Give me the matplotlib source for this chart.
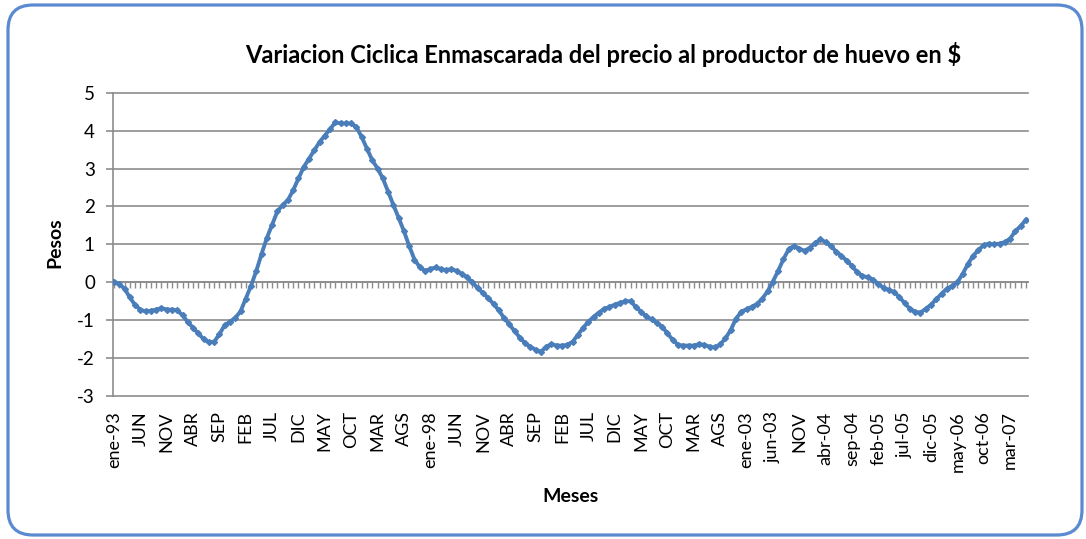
import numpy as np
import matplotlib
matplotlib.use("Agg")
import matplotlib.pyplot as plt
from matplotlib.patches import FancyBboxPatch

plt.rcParams['font.family'] = ['Lato', 'DejaVu Sans']
plt.rcParams['axes.unicode_minus'] = False

# etiquetas del eje x (una cada 5 meses, desde ene-93)
etiquetas = ["ene-93", "JUN", "NOV", "ABR", "SEP", "FEB", "JUL", "DIC", "MAY", "OCT",
             "MAR", "AGS", "ene-98", "JUN", "NOV", "ABR", "SEP", "FEB", "JUL", "DIC",
             "MAY", "OCT", "MAR", "AGS", "ene-03", "jun-03", "NOV", "abr-04", "sep-04",
             "feb-05", "jul-05", "dic-05", "may-06", "oct-06", "mar-07"]

# variacion ciclica mensual (ene-93 .. jun-07)
variacion = [
    0.02, -0.05, -0.17, -0.40, -0.60, -0.72, -0.77, -0.75, -0.72, -0.68,
    -0.72, -0.72, -0.74, -0.87, -1.05, -1.20, -1.35, -1.50, -1.58, -1.57,
    -1.37, -1.13, -1.04, -0.94, -0.77, -0.43, -0.09, 0.30, 0.75, 1.17,
    1.52, 1.87, 2.04, 2.17, 2.43, 2.74, 3.04, 3.26, 3.48, 3.70,
    3.87, 4.04, 4.22, 4.19, 4.19, 4.19, 4.09, 3.83, 3.52, 3.22,
    3.00, 2.74, 2.39, 2.04, 1.70, 1.35, 0.96, 0.60, 0.40, 0.30,
    0.35, 0.39, 0.35, 0.32, 0.35, 0.30, 0.22, 0.13, 0.00, -0.16,
    -0.28, -0.42, -0.57, -0.74, -0.94, -1.11, -1.29, -1.46, -1.61, -1.70,
    -1.78, -1.83, -1.70, -1.63, -1.67, -1.67, -1.65, -1.57, -1.39, -1.20,
    -1.04, -0.91, -0.80, -0.70, -0.65, -0.59, -0.54, -0.50, -0.50, -0.65,
    -0.78, -0.90, -0.98, -1.07, -1.17, -1.35, -1.52, -1.65, -1.67, -1.67,
    -1.67, -1.63, -1.65, -1.70, -1.72, -1.64, -1.48, -1.26, -0.96, -0.78,
    -0.71, -0.65, -0.57, -0.43, -0.24, 0.02, 0.30, 0.61, 0.87, 0.96,
    0.89, 0.83, 0.91, 1.03, 1.13, 1.06, 0.96, 0.81, 0.70, 0.57,
    0.43, 0.26, 0.17, 0.13, 0.07, -0.04, -0.15, -0.20, -0.26, -0.39,
    -0.55, -0.70, -0.78, -0.80, -0.70, -0.59, -0.45, -0.30, -0.17, -0.10,
    0.00, 0.22, 0.48, 0.70, 0.85, 0.98, 1.02, 1.00, 1.02, 1.06,
    1.15, 1.35, 1.48, 1.65,
]

azul = "#4a7ebb"
gris = "#8c8c8c"

x = np.arange(len(variacion))

fig = plt.figure(figsize=(10.86, 5.39), dpi=100)
ax = fig.add_axes([0.104, 0.2653, 0.8426, 0.5627])

ax.plot(x, variacion, color=azul, lw=2.8, marker="D", ms=3.0, zorder=3)

ax.set_xlim(-0.2, 173.4)
ax.set_ylim(-3, 5)
ax.set_yticks(range(-3, 6))
ax.yaxis.grid(True, color=gris, lw=1.2)
for gl in ax.get_ygridlines():
    gl.set_clip_on(False)
ax.set_axisbelow(True)

for s in ["top", "right"]:
    ax.spines[s].set_visible(False)
ax.spines["left"].set_color(gris)
ax.spines["left"].set_linewidth(1.2)
ax.spines["bottom"].set_position(("data", 0))
ax.spines["bottom"].set_color(gris)
ax.spines["bottom"].set_linewidth(1.2)

ax.set_xticks(x)
ax.tick_params(axis="x", length=4.5, width=1, color=gris, labelbottom=False, direction="out")
ax.tick_params(axis="y", length=5, width=1.2, color=gris, labelsize=13.5, pad=8)

sec = ax.secondary_xaxis("bottom")
sec.set_xticks(x[::5], labels=etiquetas)
sec.tick_params(length=0, pad=11, labelsize=13, labelrotation=90)
sec.spines["bottom"].set_visible(False)

fig.text(0.555, 0.883, "Variacion Ciclica Enmascarada del precio al productor de huevo en $",
         ha="center", va="baseline", fontsize=17, fontweight="bold")
fig.text(55 / 1086, 1 - 243 / 539, "Pesos", rotation=90, ha="center", va="center",
         fontsize=14, fontweight="bold")
fig.text(570 / 1086, 1 - 497 / 539, "Meses", ha="center", va="center",
         fontsize=14, fontweight="bold")

borde = FancyBboxPatch((8, 4), 1074, 530, boxstyle="round,pad=0,rounding_size=25",
                       lw=2.3, ec="#5a8ad0", fc="none", transform=None)
fig.patches.append(borde)

fig.savefig("out.png", dpi=100)
